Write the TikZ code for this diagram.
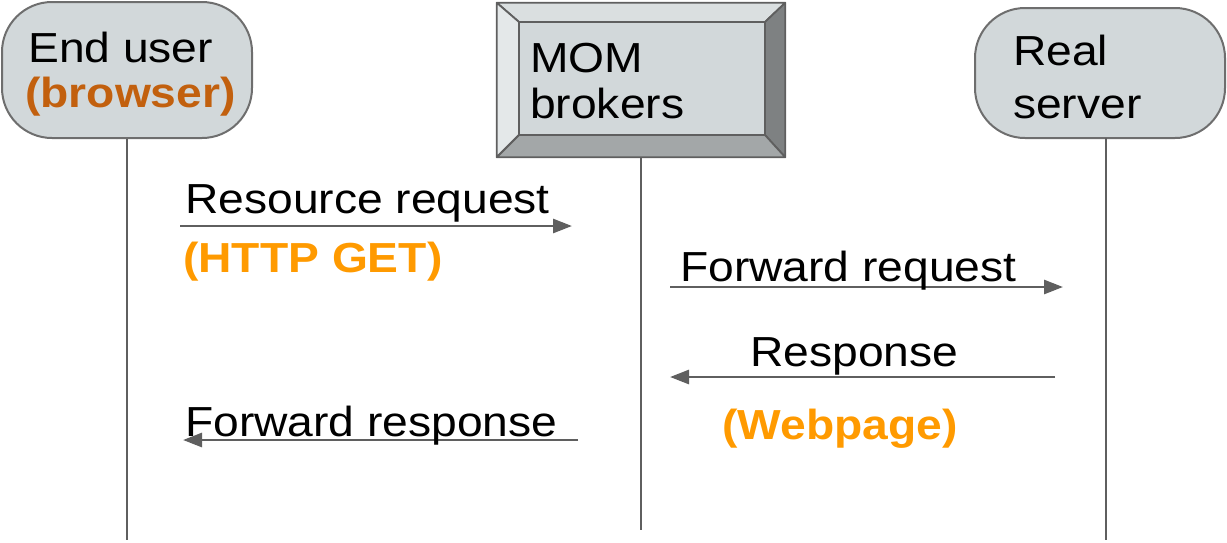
\documentclass[tikz,border=0pt]{standalone}
\usepackage{fontspec}
\setmainfont{Liberation Sans}[FakeStretch=1.1]
\usetikzlibrary{arrows.meta}
\definecolor{boxfill}{HTML}{D2D8DA}
\definecolor{edgegray}{HTML}{6E6E6E}
\definecolor{darkorange}{HTML}{C2600E}
\definecolor{brightorange}{HTML}{FF9A00}
\definecolor{linegray}{HTML}{5F5F5F}
\definecolor{bevtop}{HTML}{DADFE0}
\definecolor{bevleft}{HTML}{E4E8E9}
\definecolor{bevright}{HTML}{7E8182}
\definecolor{bevbottom}{HTML}{A3A7A8}
\begin{document}
\begin{tikzpicture}[x=1pt,y=-1pt,
  lbl/.style={anchor=base west,inner sep=0pt,font=\fontsize{42}{42}\selectfont},
  note/.style={lbl,font=\fontsize{42}{42}\selectfont\bfseries,text=brightorange},
  actor/.style={draw=edgegray,fill=boxfill,line width=2pt,rounded corners=50pt,inner sep=0pt},
  life/.style={draw=linegray,line width=2.2pt},
  msg/.style={draw=linegray,line width=2.8pt,-{Triangle[length=19pt,width=14pt]}}]
\useasboundingbox (0,0) rectangle (1227,542);
% actors
\node[actor,minimum width=250pt,minimum height=136pt] (user) at (127,70) {};
\node[actor,minimum width=250pt,minimum height=130pt] (server) at (1100,73) {};
\node[draw=none,inner sep=0pt,minimum width=288pt,minimum height=154pt] (mom) at (641,80) {};
% beveled box
\begin{scope}[draw=linegray,line width=1.8pt,line join=round]
\filldraw[fill=bevtop] (mom.north west) -- (mom.north east) -- (765,22) -- (519,22) -- cycle;
\filldraw[fill=bevleft] (mom.north west) -- (519,22) -- (519,135) -- (mom.south west) -- cycle;
\filldraw[fill=bevright] (mom.north east) -- (mom.south east) -- (765,135) -- (765,22) -- cycle;
\filldraw[fill=bevbottom] (mom.south west) -- (519,135) -- (765,135) -- (mom.south east) -- cycle;
\filldraw[fill=boxfill] (519,22) rectangle (765,135);
\end{scope}
% labels in actors
\node[lbl] (t1) at (28,62) {End user};
\node[lbl,font=\fontsize{42}{42}\selectfont\bfseries,text=darkorange] (t2) at (25,107) {(browser)};
\node[lbl] (t3) at (530,72) {MOM};
\node[lbl] (t4) at (530,118) {brokers};
\node[lbl] (t5) at (1013,65) {Real};
\node[lbl] (t6) at (1013,118) {server};
% lifelines
\coordinate (userend) at (127,540);
\coordinate (momend) at (641,530);
\coordinate (servertop) at (1106,138);
\coordinate (serverend) at (1106,540);
\draw[life] (user.south) -- (userend);
\draw[life] (mom.south) -- (momend);
\draw[life] (servertop) -- (serverend);
% messages
\coordinate (a1s) at (180,226); \coordinate (a1e) at (572,226);
\coordinate (a2s) at (670,287); \coordinate (a2e) at (1063,287);
\coordinate (a3s) at (1055,377); \coordinate (a3e) at (670,377);
\coordinate (a4s) at (578,440); \coordinate (a4e) at (183,440);
\draw[msg] (a1s) -- (a1e);
\draw[msg] (a2s) -- (a2e);
\draw[msg] (a3s) -- (a3e);
\draw[msg] (a4s) -- (a4e);
\node[lbl] (m1) at (185,213) {Resource request};
\node[note] (m1b) at (183,272) {(HTTP GET)};
\node[lbl] (m2) at (680,281) {Forward request};
\node[lbl] (m3) at (750,366) {Response};
\node[note] (m3b) at (722,439) {(Webpage)};
\node[lbl] (m4) at (185,436) {Forward response};
\end{tikzpicture}
\end{document}
